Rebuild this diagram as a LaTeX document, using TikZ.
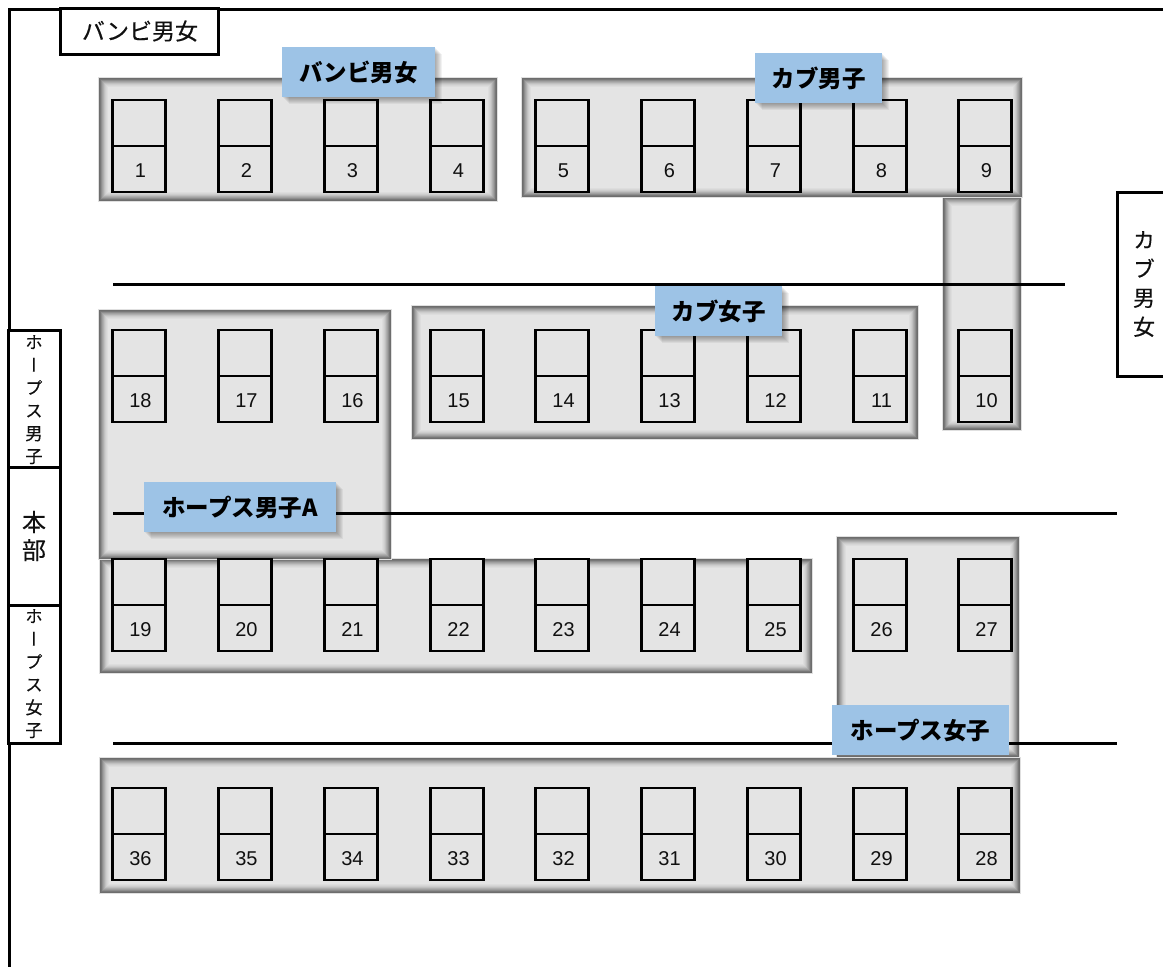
\documentclass[tikz,border=0pt]{standalone}
\usepackage{fontspec}
\setmainfont{Noto Sans CJK JP}
\newfontfamily\plainfont[FakeBold=0.25]{Noto Sans CJK JP}
\newfontfamily\vertfont[RawFeature=+vert,FakeBold=0.25]{Noto Sans CJK JP}
\newfontfamily\numfont{Liberation Sans}
\definecolor{labelblue}{HTML}{9DC3E6}
\definecolor{panelfill}{HTML}{E4E4E4}
\definecolor{textblack}{HTML}{101010}
\tikzset{
  wall/.style={draw=black,line width=3pt},
  hall/.style={draw=black,line width=3pt},
  boothbox/.style={draw=black,line width=2.8pt,fill=panelfill,rectangle,minimum width=53pt,minimum height=92pt,inner sep=0pt,outer sep=0pt},
  boothnum/.style={font=\numfont\fontsize{20}{20}\selectfont,text=textblack,inner sep=0pt},
  tag/.style={fill=labelblue,rectangle,inner sep=0pt,outer sep=0pt,font=\fontsize{23.5}{23.5}\selectfont\bfseries},
  sidebox/.style={draw=black,line width=3pt,fill=white,rectangle,inner sep=0pt,outer sep=0pt},
  vtext/.style={align=center,inner sep=0pt,text=textblack},
}
\newcommand{\panelbox}[4]{%
  \fill[black!12] (#1-1,#2-1) rectangle (#3+1,#4+1);
  \foreach \i/\c in {0/48,1/52,2/62,3/70,4/77,5/84,6/90,7/94,8/97}{%
    \fill[panelfill!\c!black] (#1+\i,#2+\i) rectangle (#3-\i,#4-\i);
  }%
  \fill[panelfill] (#1+9,#2+9) rectangle (#3-9,#4-9);
}
\newcommand{\tagbox}[6]{% name, x1, y1, x2, y2, text
  \node[tag,minimum width=#4pt-#2pt,minimum height=#5pt-#3pt,anchor=north west] (#1) at (#2,#3) {#6};
}
\newcommand{\softshadow}[4]{%
  \foreach \d in {1,2,...,7}{%
    \fill[black,opacity=0.05] (#1+\d,#2+\d) rectangle (#3+\d,#4+\d);
  }%
}
\begin{document}
\begin{tikzpicture}[x=1pt,y=-1pt]
\useasboundingbox (0,0) rectangle (1163,967);
\fill[white] (0,0) rectangle (1163,967);
% panels
\panelbox{100}{559}{812}{673}
\panelbox{99}{310}{391}{559}
\panelbox{99}{78}{497}{201}
\panelbox{943}{197}{1021}{430}
\panelbox{522}{78}{1022}{197}
\panelbox{412}{306}{918}{439}
\panelbox{837}{537}{1019}{757}
\panelbox{100}{758}{1020}{893}
% walls
\draw[wall] (9,967) -- (9,9) -- (1163,9);
% side boxes
\node[sidebox,minimum width=158pt,minimum height=46pt,anchor=north west] (bambibox) at (60,8) {};
\node[inner sep=0pt,text=textblack,font=\plainfont\fontsize{23}{23}\selectfont] (bambitext) at (140,31) {バンビ男女};
\node[sidebox,minimum width=52pt,minimum height=137pt,anchor=north west] (hopesboysbox) at (8,330) {};
\node[sidebox,minimum width=52pt,minimum height=138pt,anchor=north west] (honbubox) at (8,467) {};
\node[sidebox,minimum width=52pt,minimum height=138pt,anchor=north west] (hopesgirlsbox) at (8,605) {};
\node[sidebox,minimum width=50pt,minimum height=184pt,anchor=north west] (cubbox) at (1117,192) {};
\node[vtext,anchor=north,font=\vertfont\fontsize{17.5}{22.8}\selectfont] (hopesboystext) at (34,335) {ホ\\ー\\プ\\ス\\男\\子};
\node[vtext,anchor=north,font=\vertfont\fontsize{17.5}{22.8}\selectfont] (hopesgirlstext) at (34,609) {ホ\\ー\\プ\\ス\\女\\子};
\node[vtext,font=\plainfont\fontsize{24}{28}\selectfont] (honbutext) at (34,536) {本\\部};
\node[vtext,font=\vertfont\fontsize{22}{29}\selectfont] (cubtext) at (1144,284) {カ\\ブ\\男\\女};
% hall lines
\coordinate (h1a) at (113,284); \coordinate (h1b) at (1065,284);
\coordinate (h2a) at (113,513); \coordinate (h2b) at (1117,513);
\coordinate (h3a) at (113,743); \coordinate (h3b) at (1117,743);
\draw[hall] (h1a) -- (h1b);
\draw[hall] (h2a) -- (h2b);
\draw[hall] (h3a) -- (h3b);
% booths
\foreach \n/\x/\y in {1/139/100,2/245/100,3/351/100,4/457/100,5/562/100,6/668/100,7/774/100,8/880/100,9/985/100,
  10/985/330,11/880/330,12/774/330,13/668/330,14/562/330,15/457/330,16/351/330,17/245/330,18/139/330,
  19/139/559,20/245/559,21/351/559,22/457/559,23/562/559,24/668/559,25/774/559,26/880/559,27/985/559,
  28/985/788,29/880/788,30/774/788,31/668/788,32/562/788,33/457/788,34/351/788,35/245/788,36/139/788}{
  \node[boothbox,anchor=north] (b\n) at (\x,\y) {};
  \draw[black,line width=2.8pt] (b\n.west |- 0,\y+46) -- (b\n.east |- 0,\y+46);
  \node[boothnum] (n\n) at (\x+1.5,\y+71) {\n};
}
% tags
\softshadow{282}{47}{435}{97}
\softshadow{755}{53}{882}{103}
\softshadow{655}{286}{782}{336}
\softshadow{144}{482}{336}{532}
\tagbox{tagbambi}{282}{47}{435}{97}{バンビ男女}
\tagbox{tagcubboys}{755}{53}{882}{103}{カブ男子}
\tagbox{tagcubgirls}{655}{286}{782}{336}{カブ女子}
\tagbox{taghopesboys}{144}{482}{336}{532}{ホープス男子A}
\tagbox{taghopesgirls}{832}{705}{1009}{755}{ホープス女子}
\end{tikzpicture}
\end{document}
